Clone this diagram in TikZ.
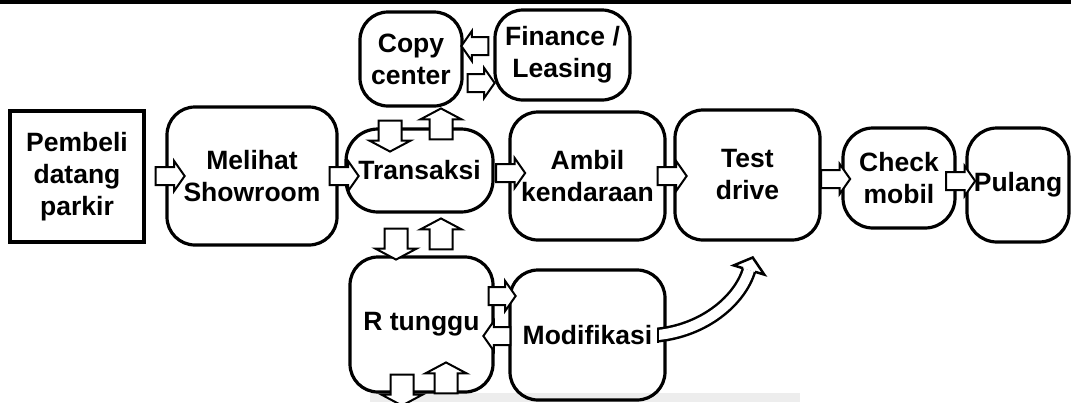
\documentclass[tikz,border=0pt]{standalone}
\usepackage{fontspec}
\setmainfont{Liberation Sans}
\usetikzlibrary{shapes.arrows}
\begin{document}
\begin{tikzpicture}[x=1pt,y=-1pt,
  box/.style={draw, line width=3.2, rounded corners=28, align=center, inner sep=0,
    font=\fontsize{26.5}{32}\selectfont\bfseries},
  sq/.style={box, rounded corners=0},
  hb/.style={single arrow, draw, fill=white, line width=2, inner xsep=0, inner ysep=8,
    single arrow head indent=0, single arrow tip angle=110,
    minimum height=29, single arrow head extend=6},
  vb/.style={single arrow, draw, fill=white, line width=2, inner xsep=0, inner ysep=10.5,
    single arrow head indent=0, single arrow tip angle=124,
    minimum height=31, single arrow head extend=9},
  band/.style={line width=2.5, double=white, double distance=10}
]
\useasboundingbox (0,0) rectangle (1071,402);
\fill[black] (0,0) rectangle (1071,3.5);
\fill[gray!14] (370,393) rectangle (800,402);

% boxes
\node[sq, minimum width=134, minimum height=131] (pembeli) at (77,176.5) {Pembeli\\datang\\parkir};
\node[box, minimum width=170, minimum height=138] (melihat) at (252,176) {Melihat\\Showroom};
\node[box, minimum width=147, minimum height=83, rounded corners=32] (transaksi) at (419.5,170.5) {Transaksi};
\node[box, minimum width=102, minimum height=94] (copy) at (411,59) {Copy\\center};
\node[box, minimum width=135, minimum height=90] (finance) at (562.5,55) {Finance /\\Leasing};
\node[box, minimum width=155, minimum height=128] (ambil) at (587.5,176) {Ambil\\kendaraan};
\node[box, minimum width=145, minimum height=130] (test) at (747.5,175) {Test\\drive};
\node[box, minimum width=112, minimum height=100, rounded corners=30] (check) at (899,178) {Check\\mobil};
\node[box, minimum width=102, minimum height=114, rounded corners=30] (pulang) at (1018,185) {Pulang};
\node[box, minimum width=143, minimum height=135] (rtunggu) at (421.5,324.5) {R tunggu};
\node[box, minimum width=155, minimum height=130] (modif) at (587.5,335) {Modifikasi};

% horizontal block arrows
\node[hb] (a1) at (167,176) {};
\node[hb] (a2) at (341,176) {};
\node[hb] (a3) at (507.5,173) {};
\node[hb] (a4) at (669,176) {};
\node[hb] (a5) at (832.5,179) {};
\node[hb] (a6) at (957.5,181) {};
\node[hb, rotate=180, minimum height=27] (a7) at (478,46) {};
\node[hb, minimum height=27] (a8) at (478,83) {};
\node[hb, minimum height=27] (a13) at (499,296) {};
\node[hb, rotate=180, minimum height=27] (a14) at (500,336) {};

% vertical block arrows
\node[vb, rotate=-90] (a9) at (390,133) {};
\node[vb, rotate=90] (a10) at (441,127) {};
\node[vb, rotate=-90] (a11) at (396,241) {};
\node[vb, rotate=90] (a12) at (441,237) {};
\node[vb, rotate=-90] (a15) at (402,387) {};
\node[vb, rotate=90] (a16) at (446,381) {};

% curved arrow from Modifikasi
\coordinate (cs) at (658,335);
\coordinate (ce) at (749,270);
\draw[band] (cs) .. controls (705,330) and (740,300) .. (ce);
\draw[line width=2.5] (658,327.5) -- (658,342.5);
\filldraw[fill=white, line width=2.5, line join=miter]
  (743.0,268.2) -- (733.7,265.4) -- (752.7,257.5) -- (764.3,274.6) -- (755.0,271.8);
\end{tikzpicture}
\end{document}
